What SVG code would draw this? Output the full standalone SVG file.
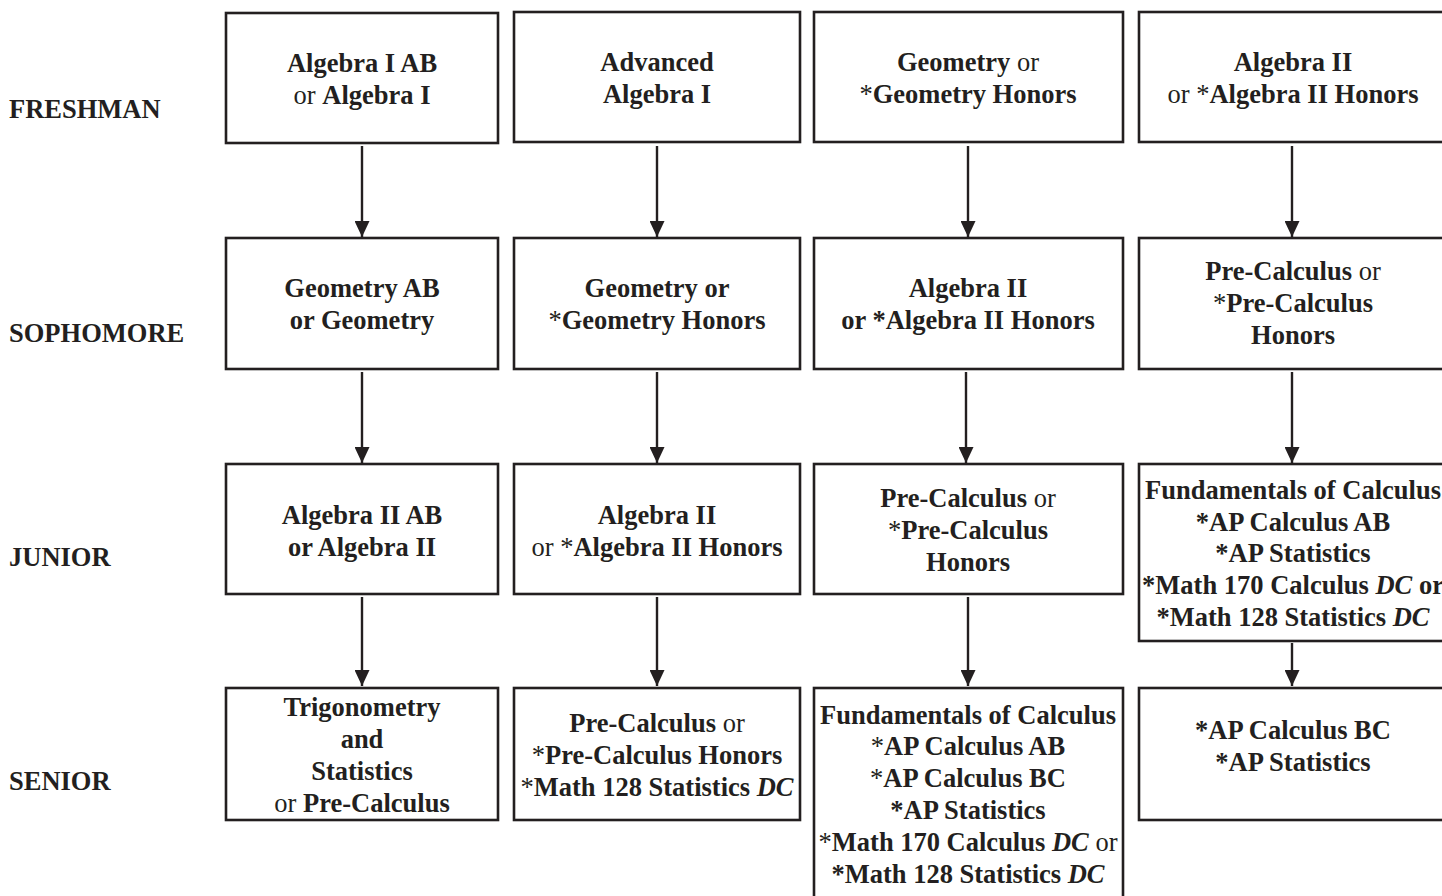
<svg xmlns="http://www.w3.org/2000/svg" width="1442" height="896" viewBox="0 0 1442 896">
<style>
text{font-family:"Liberation Serif","Times New Roman",serif;font-size:26.5px;fill:#231f20;text-anchor:middle}
.b{font-weight:bold}
.r{font-weight:normal}
.i{font-style:italic;font-weight:bold}
.lab{text-anchor:start;font-weight:bold}
.box{fill:#fff;stroke:#231f20;stroke-width:2.6}
.con{stroke:#231f20;stroke-width:2.4;fill:none}
</style>
<defs>
<marker id="ah" viewBox="0 0 16 15" refX="16" refY="7.5" markerWidth="16" markerHeight="15" markerUnits="userSpaceOnUse" orient="auto">
<path d="M0,0 L16,7.5 L0,15 Z" fill="#231f20"/>
</marker>
</defs>
<rect width="1442" height="896" fill="#fff"/>
<g id="labels">
<text class="lab" x="9" y="118">FRESHMAN</text>
<text class="lab" x="9" y="342">SOPHOMORE</text>
<text class="lab" x="9" y="566">JUNIOR</text>
<text class="lab" x="9" y="790">SENIOR</text>
</g>
<g id="connectors">
<line class="con" x1="362" y1="146" x2="362" y2="237" marker-end="url(#ah)"/>
<line class="con" x1="657" y1="146" x2="657" y2="237" marker-end="url(#ah)"/>
<line class="con" x1="968" y1="146" x2="968" y2="237" marker-end="url(#ah)"/>
<line class="con" x1="1292" y1="146" x2="1292" y2="237" marker-end="url(#ah)"/>
<line class="con" x1="362" y1="372" x2="362" y2="463" marker-end="url(#ah)"/>
<line class="con" x1="657" y1="372" x2="657" y2="463" marker-end="url(#ah)"/>
<line class="con" x1="966" y1="372" x2="966" y2="463" marker-end="url(#ah)"/>
<line class="con" x1="1292" y1="372" x2="1292" y2="463" marker-end="url(#ah)"/>
<line class="con" x1="362" y1="597" x2="362" y2="686" marker-end="url(#ah)"/>
<line class="con" x1="657" y1="597" x2="657" y2="686" marker-end="url(#ah)"/>
<line class="con" x1="968" y1="597" x2="968" y2="686" marker-end="url(#ah)"/>
<line class="con" x1="1292" y1="643" x2="1292" y2="686" marker-end="url(#ah)"/>
</g>
<g id="n11"><rect class="box" x="226" y="13" width="272" height="130"/>
<text class="b" x="362" y="72">Algebra I AB</text>
<text x="362" y="104"><tspan class="r">or </tspan><tspan class="b">Algebra I</tspan></text></g>
<g id="n12"><rect class="box" x="514" y="12" width="286" height="130"/>
<text class="b" x="657" y="71">Advanced</text>
<text class="b" x="657" y="103">Algebra I</text></g>
<g id="n13"><rect class="box" x="814" y="12" width="309" height="130"/>
<text x="968" y="71"><tspan class="b">Geometry</tspan><tspan class="r"> or</tspan></text>
<text x="968" y="103"><tspan class="r">*</tspan><tspan class="b">Geometry Honors</tspan></text></g>
<g id="n14"><rect class="box" x="1139" y="12" width="320" height="130"/>
<text class="b" x="1293" y="71">Algebra II</text>
<text x="1293" y="103"><tspan class="r">or *</tspan><tspan class="b">Algebra II Honors</tspan></text></g>

<g id="n21"><rect class="box" x="226" y="238" width="272" height="131"/>
<text class="b" x="362" y="297">Geometry AB</text>
<text class="b" x="362" y="329">or Geometry</text></g>
<g id="n22"><rect class="box" x="514" y="238" width="286" height="131"/>
<text class="b" x="657" y="297">Geometry or</text>
<text x="657" y="329"><tspan class="r">*</tspan><tspan class="b">Geometry Honors</tspan></text></g>
<g id="n23"><rect class="box" x="814" y="238" width="309" height="131"/>
<text class="b" x="968" y="297">Algebra II</text>
<text class="b" x="968" y="329">or *Algebra II Honors</text></g>
<g id="n24"><rect class="box" x="1139" y="238" width="320" height="131"/>
<text x="1293" y="280"><tspan class="b">Pre-Calculus</tspan><tspan class="r"> or</tspan></text>
<text x="1293" y="312"><tspan class="r">*</tspan><tspan class="b">Pre-Calculus</tspan></text>
<text class="b" x="1293" y="344">Honors</text></g>

<g id="n31"><rect class="box" x="226" y="464" width="272" height="130"/>
<text class="b" x="362" y="524">Algebra II AB</text>
<text class="b" x="362" y="556">or Algebra II</text></g>
<g id="n32"><rect class="box" x="514" y="464" width="286" height="130"/>
<text class="b" x="657" y="524">Algebra II</text>
<text x="657" y="556"><tspan class="r">or *</tspan><tspan class="b">Algebra II Honors</tspan></text></g>
<g id="n33"><rect class="box" x="814" y="464" width="309" height="130"/>
<text x="968" y="507"><tspan class="b">Pre-Calculus</tspan><tspan class="r"> or</tspan></text>
<text x="968" y="539"><tspan class="r">*</tspan><tspan class="b">Pre-Calculus</tspan></text>
<text class="b" x="968" y="571">Honors</text></g>
<g id="n34"><rect class="box" x="1139" y="464" width="320" height="177"/>
<text class="b" x="1293" y="499">Fundamentals of Calculus</text>
<text class="b" x="1293" y="531">*AP Calculus AB</text>
<text class="b" x="1293" y="562">*AP Statistics</text>
<text x="1293" y="594"><tspan class="b">*Math 170 Calculus </tspan><tspan class="i">DC</tspan><tspan class="b"> or</tspan></text>
<text x="1293" y="626"><tspan class="b">*Math 128 Statistics </tspan><tspan class="i">DC</tspan></text></g>

<g id="n41"><rect class="box" x="226" y="688" width="272" height="132"/>
<text class="b" x="362" y="716">Trigonometry</text>
<text class="b" x="362" y="748">and</text>
<text class="b" x="362" y="780">Statistics</text>
<text x="362" y="812"><tspan class="r">or </tspan><tspan class="b">Pre-Calculus</tspan></text></g>
<g id="n42"><rect class="box" x="514" y="688" width="286" height="132"/>
<text x="657" y="732"><tspan class="b">Pre-Calculus</tspan><tspan class="r"> or</tspan></text>
<text x="657" y="764"><tspan class="r">*</tspan><tspan class="b">Pre-Calculus Honors</tspan></text>
<text x="657" y="796"><tspan class="r">*</tspan><tspan class="b">Math 128 Statistics </tspan><tspan class="i">DC</tspan></text></g>
<g id="n43"><rect class="box" x="814" y="688" width="309" height="220"/>
<text class="b" x="968" y="724">Fundamentals of Calculus</text>
<text x="968" y="755"><tspan class="r">*</tspan><tspan class="b">AP Calculus AB</tspan></text>
<text x="968" y="787"><tspan class="r">*</tspan><tspan class="b">AP Calculus BC</tspan></text>
<text class="b" x="968" y="819">*AP Statistics</text>
<text x="968" y="851"><tspan class="r">*</tspan><tspan class="b">Math 170 Calculus </tspan><tspan class="i">DC</tspan><tspan class="r"> or</tspan></text>
<text x="968" y="883"><tspan class="b">*Math 128 Statistics </tspan><tspan class="i">DC</tspan></text></g>
<g id="n44"><rect class="box" x="1139" y="688" width="320" height="132"/>
<text class="b" x="1293" y="739">*AP Calculus BC</text>
<text class="b" x="1293" y="771">*AP Statistics</text></g>
</svg>
